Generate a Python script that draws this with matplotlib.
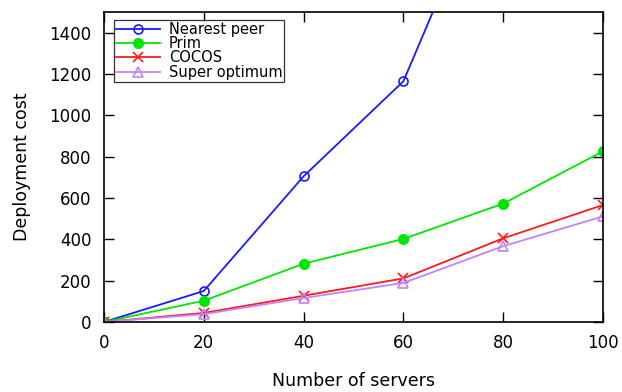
import matplotlib.pyplot as plt

# server counts and deployment cost for each placement algorithm
servers = [0, 20, 40, 60, 80, 100]
nearest_peer = [0, 150, 705, 1165, 2300, 3500]
prim = [0, 103, 282, 402, 573, 826]
cocos = [0, 44, 127, 211, 405, 566]
super_optimum = [0, 38, 116, 189, 367, 511]

plt.rcParams['font.family'] = 'DejaVu Sans'

fig = plt.figure(figsize=(6.22, 3.92), dpi=100)
ax = fig.add_axes([104 / 622, 70 / 392, 499 / 622, 310 / 392])

ax.plot(servers, nearest_peer, color='#1a1aff', lw=1.3, marker='o', ms=6.5,
        mfc='none', mew=1.2, label='Nearest peer')
ax.plot(servers, prim, color='#00e600', lw=1.3, marker='o', ms=7,
        label='Prim')
ax.plot(servers, cocos, color='#ff1a1a', lw=1.3, marker='x', ms=7,
        mew=1.2, label='COCOS')
ax.plot(servers, super_optimum, color='#c084ff', lw=1.3, marker='^', ms=7,
        mfc='none', mew=1.2, label='Super optimum')

ax.set_xlim(0, 100)
ax.set_ylim(0, 1500)
ax.set_xticks(range(0, 101, 20))
ax.set_yticks(range(0, 1401, 200))
ax.tick_params(direction='in', length=7, width=1, top=True, right=True,
               labelsize=12, pad=9)
for s in ax.spines.values():
    s.set_linewidth(1.2)

ax.set_xlabel('Number of servers', fontsize=12.5, labelpad=14)
ax.set_ylabel('Deployment cost', fontsize=12.5, labelpad=13)

leg = ax.legend(loc='upper left', bbox_to_anchor=(0.02, 0.975), fontsize=10.5,
                frameon=True, fancybox=False, edgecolor='black',
                handlelength=3.0, handletextpad=0.6, borderpad=0.15,
                labelspacing=-0.05, borderaxespad=0)
leg.get_frame().set_linewidth(0.9)

fig.savefig('out.png', dpi=100)
